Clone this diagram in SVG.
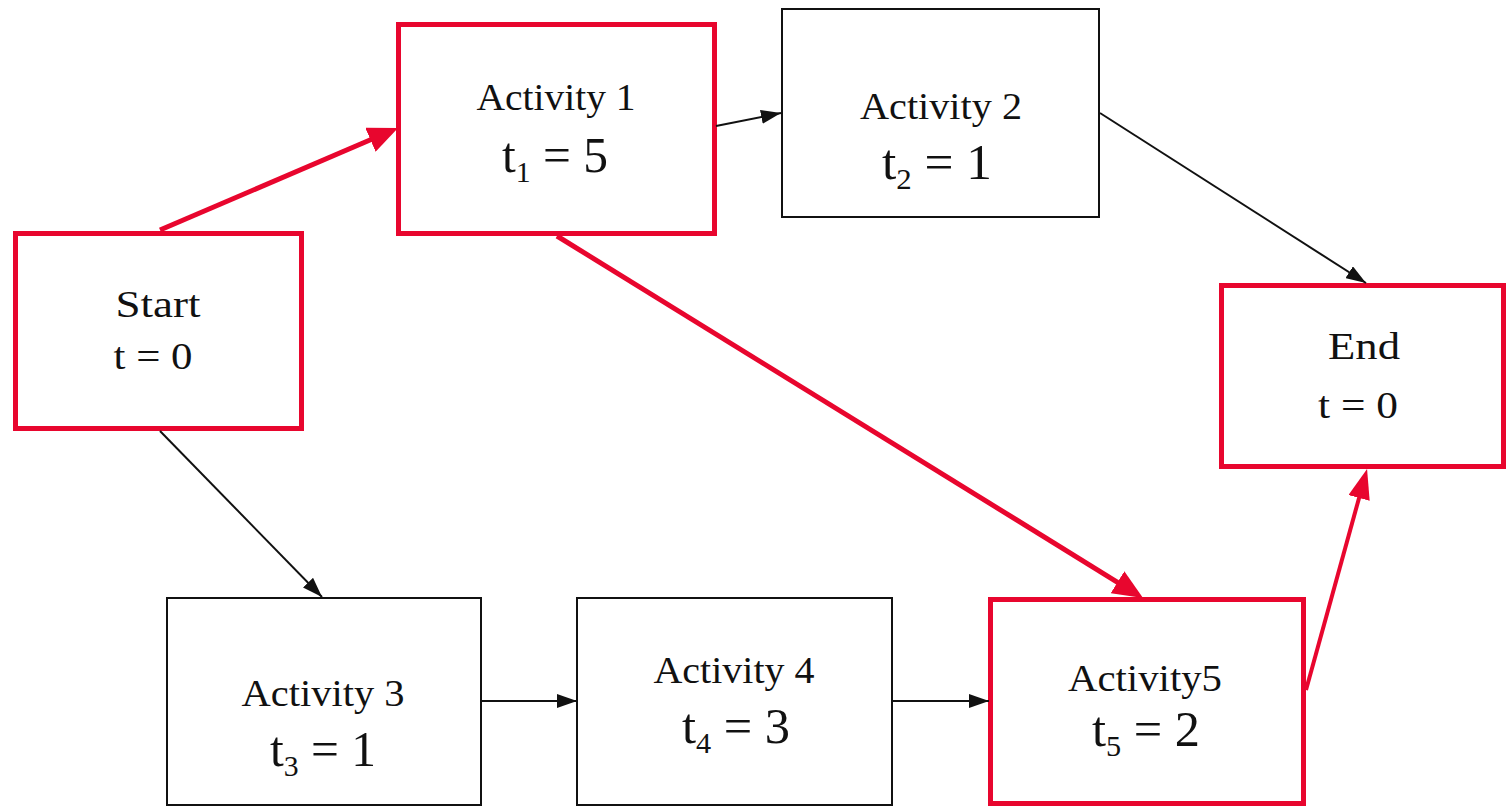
<svg xmlns="http://www.w3.org/2000/svg" width="1508" height="806" viewBox="0 0 1508 806">
<style>
  .crit { fill: #ffffff; stroke: #E8062E; stroke-width: 5; }
  .norm { fill: #ffffff; stroke: #111111; stroke-width: 2; }
  .lbl { font-family: "Liberation Serif", "Times New Roman", serif; font-size: 38px; fill: #111111; text-anchor: middle; }
  .val { font-family: "Liberation Serif", "Times New Roman", serif; font-size: 50px; fill: #111111; text-anchor: middle; }
  .sub { font-size: 30px; }
  .cline { fill: none; stroke: #E8062E; stroke-width: 5; }
  .nline { fill: none; stroke: #111111; stroke-width: 2; }
</style>
<defs>
  <marker id="ab" markerUnits="userSpaceOnUse" markerWidth="20" markerHeight="14" refX="20" refY="7" orient="auto">
    <path d="M0,0 L20,7 L0,14 z" fill="#111111"/>
  </marker>
  <marker id="ar" markerUnits="userSpaceOnUse" markerWidth="30" markerHeight="26" refX="2" refY="13" orient="auto">
    <path d="M0,0 L30,13 L0,26 z" fill="#E8062E"/>
  </marker>
  <marker id="ar2" markerUnits="userSpaceOnUse" markerWidth="30" markerHeight="22" refX="2" refY="11" orient="auto">
    <path d="M0,0 L30,11 L0,22 z" fill="#E8062E"/>
  </marker>
</defs>
<rect x="0" y="0" width="1508" height="806" fill="#ffffff"/>

<g id="start">
  <rect class="crit" x="15.5" y="233.5" width="286" height="195"/>
  <text class="lbl" x="158" y="317" textLength="85" lengthAdjust="spacingAndGlyphs">Start</text>
  <text class="lbl" x="153" y="369" textLength="79" lengthAdjust="spacingAndGlyphs">t = 0</text>
</g>
<g id="activity1">
  <rect class="crit" x="398.5" y="24.5" width="316" height="209"/>
  <text class="lbl" x="556" y="110" textLength="159" lengthAdjust="spacingAndGlyphs">Activity 1</text>
  <text class="val" x="555" y="172" textLength="106" lengthAdjust="spacingAndGlyphs">t<tspan class="sub" dy="10">1</tspan><tspan dy="-10"> = 5</tspan></text>
</g>
<g id="activity2">
  <rect class="norm" x="782" y="9" width="317" height="208"/>
  <text class="lbl" x="941" y="119" textLength="162" lengthAdjust="spacingAndGlyphs">Activity 2</text>
  <text class="val" x="937" y="179" textLength="110" lengthAdjust="spacingAndGlyphs">t<tspan class="sub" dy="10">2</tspan><tspan dy="-10"> = 1</tspan></text>
</g>
<g id="end">
  <rect class="crit" x="1221.5" y="285.5" width="282" height="181"/>
  <text class="lbl" x="1364" y="359" textLength="72" lengthAdjust="spacingAndGlyphs">End</text>
  <text class="lbl" x="1358" y="418" textLength="80" lengthAdjust="spacingAndGlyphs">t = 0</text>
</g>
<g id="activity3">
  <rect class="norm" x="167" y="598" width="314" height="207"/>
  <text class="lbl" x="323" y="706" textLength="163" lengthAdjust="spacingAndGlyphs">Activity 3</text>
  <text class="val" x="323" y="766" textLength="106" lengthAdjust="spacingAndGlyphs">t<tspan class="sub" dy="10">3</tspan><tspan dy="-10"> = 1</tspan></text>
</g>
<g id="activity4">
  <rect class="norm" x="577" y="598" width="315" height="207"/>
  <text class="lbl" x="734" y="683" textLength="161" lengthAdjust="spacingAndGlyphs">Activity 4</text>
  <text class="val" x="736" y="743" textLength="108" lengthAdjust="spacingAndGlyphs">t<tspan class="sub" dy="10">4</tspan><tspan dy="-10"> = 3</tspan></text>
</g>
<g id="activity5">
  <rect class="crit" x="990.5" y="599.5" width="313" height="204"/>
  <text class="lbl" x="1145" y="691" textLength="154" lengthAdjust="spacingAndGlyphs">Activity5</text>
  <text class="val" x="1146" y="746" textLength="108" lengthAdjust="spacingAndGlyphs">t<tspan class="sub" dy="10">5</tspan><tspan dy="-10"> = 2</tspan></text>
</g>

<g id="connectors">
  <line class="nline" x1="716" y1="126" x2="781" y2="113" marker-end="url(#ab)"/>
  <line class="nline" x1="1100" y1="113" x2="1366" y2="283" marker-end="url(#ab)"/>
  <line class="nline" x1="160" y1="431" x2="322" y2="597" marker-end="url(#ab)"/>
  <line class="nline" x1="481" y1="701" x2="577" y2="701" marker-end="url(#ab)"/>
  <line class="nline" x1="892" y1="701" x2="989" y2="701" marker-end="url(#ab)"/>
  <line class="cline" x1="160" y1="230" x2="372.3" y2="139" marker-end="url(#ar)"/>
  <line class="cline" x1="557" y1="236" x2="1119.2" y2="583.3" marker-end="url(#ar)"/>
  <line class="cline" style="stroke-width:4" x1="1306" y1="690" x2="1359.6" y2="496" marker-end="url(#ar2)"/>
</g>
</svg>
